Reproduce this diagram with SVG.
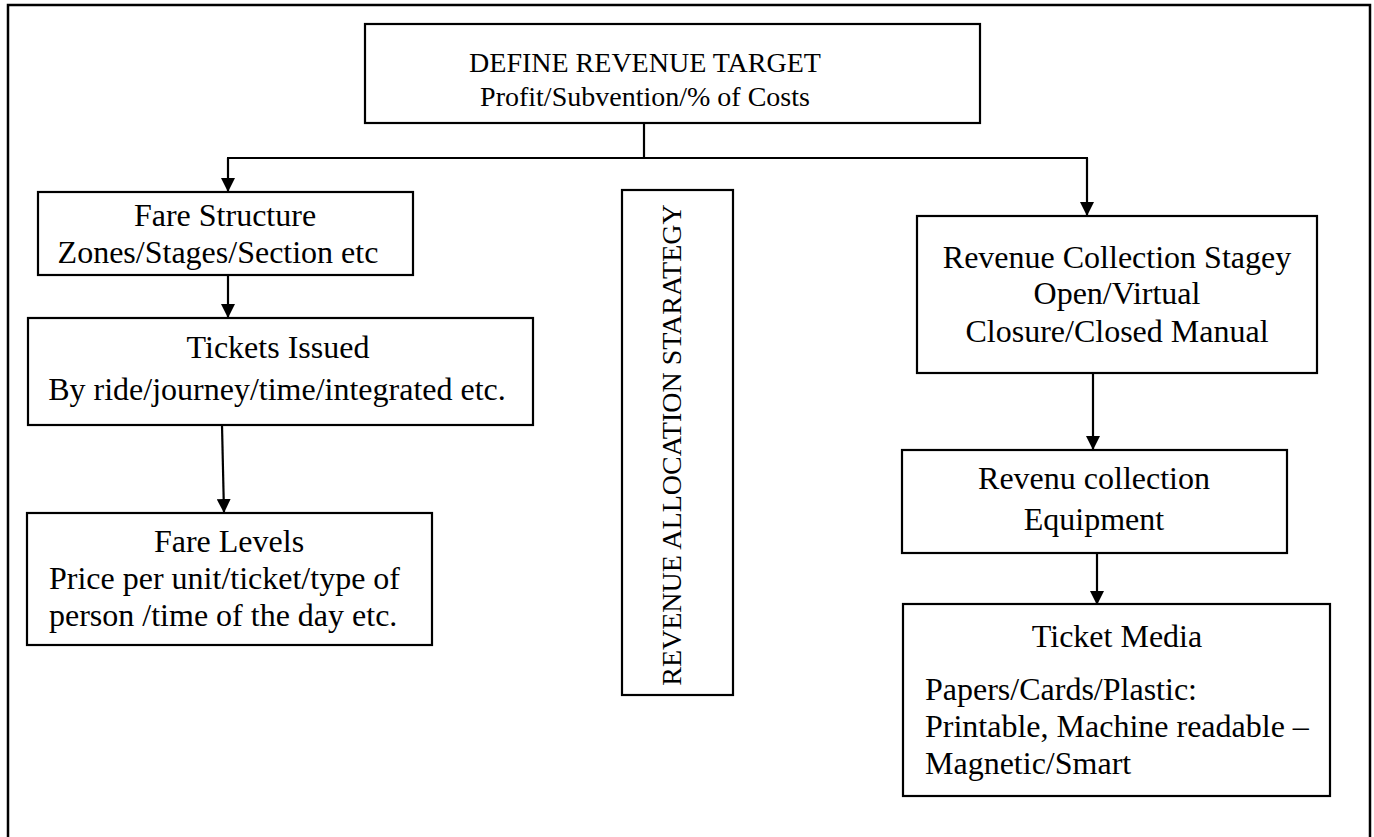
<svg xmlns="http://www.w3.org/2000/svg" width="1374" height="837" viewBox="0 0 1374 837">
<defs>
<style>
.box{fill:#fff;stroke:#000;stroke-width:2.2}
.t{font-family:"Liberation Serif","Times New Roman",serif;font-size:32px;fill:#000}
.s{font-size:28px}
.c{text-anchor:middle}
.ln{fill:none;stroke:#000;stroke-width:2.2}
</style>
<marker id="ah" viewBox="0 0 14 14" markerWidth="14" markerHeight="14" refX="14" refY="7" orient="auto" markerUnits="userSpaceOnUse">
<path d="M0,0 L14,7 L0,14 z" fill="#000"/>
</marker>
</defs>
<rect x="0" y="0" width="1374" height="837" fill="#fff"/>
<path d="M8,840 V5 H1370 V840" fill="none" stroke="#000" stroke-width="2.5"/>
<g id="connectors">
<line class="ln" x1="644" y1="123" x2="644" y2="158"/>
<line class="ln" x1="227" y1="158" x2="1088" y2="158" stroke-width="3"/>
<line class="ln" x1="228" y1="158" x2="228" y2="192" marker-end="url(#ah)"/>
<line class="ln" x1="1087" y1="158" x2="1087" y2="216" marker-end="url(#ah)"/>
<line class="ln" x1="228" y1="275" x2="228" y2="318" marker-end="url(#ah)"/>
<line class="ln" x1="222" y1="425" x2="224" y2="513" marker-end="url(#ah)"/>
<line class="ln" x1="1093" y1="373" x2="1093" y2="450" marker-end="url(#ah)"/>
<line class="ln" x1="1097" y1="553" x2="1097" y2="605" marker-end="url(#ah)"/>
</g>
<g id="target">
<rect class="box" x="365" y="24" width="615" height="99"/>
<text class="t s c" x="645" y="72">DEFINE REVENUE TARGET</text>
<text class="t s c" x="645" y="106">Profit/Subvention/% of Costs</text>
</g>
<g id="fare-structure">
<rect class="box" x="38" y="192" width="375" height="83"/>
<text class="t c" x="225" y="226">Fare Structure</text>
<text class="t c" x="218" y="263">Zones/Stages/Section etc</text>
</g>
<g id="tickets-issued">
<rect class="box" x="28" y="318" width="505" height="107"/>
<text class="t c" x="278" y="358">Tickets Issued</text>
<text class="t c" x="277" y="400">By ride/journey/time/integrated etc.</text>
</g>
<g id="fare-levels">
<rect class="box" x="27" y="513" width="405" height="132"/>
<text class="t c" x="229" y="552">Fare Levels</text>
<text class="t" x="49" y="589">Price per unit/ticket/type of</text>
<text class="t" x="49" y="626">person /time of the day etc.</text>
</g>
<g id="allocation">
<rect class="box" x="622" y="190" width="111" height="505"/>
<text class="t s c" transform="translate(681,445) rotate(-90)">REVENUE ALLOCATION STARATEGY</text>
</g>
<g id="collection-strategy">
<rect class="box" x="917" y="216" width="400" height="157"/>
<text class="t c" x="1117" y="268">Revenue Collection Stagey</text>
<text class="t c" x="1117" y="304">Open/Virtual</text>
<text class="t c" x="1117" y="342">Closure/Closed Manual</text>
</g>
<g id="collection-equipment">
<rect class="box" x="902" y="450" width="385" height="103"/>
<text class="t c" x="1094" y="489">Revenu collection</text>
<text class="t c" x="1094" y="530">Equipment</text>
</g>
<g id="ticket-media">
<rect class="box" x="903" y="604" width="427" height="192"/>
<text class="t c" x="1117" y="647">Ticket Media</text>
<text class="t" x="925" y="700">Papers/Cards/Plastic:</text>
<text class="t" x="925" y="737">Printable, Machine readable –</text>
<text class="t" x="925" y="774">Magnetic/Smart</text>
</g>
</svg>
